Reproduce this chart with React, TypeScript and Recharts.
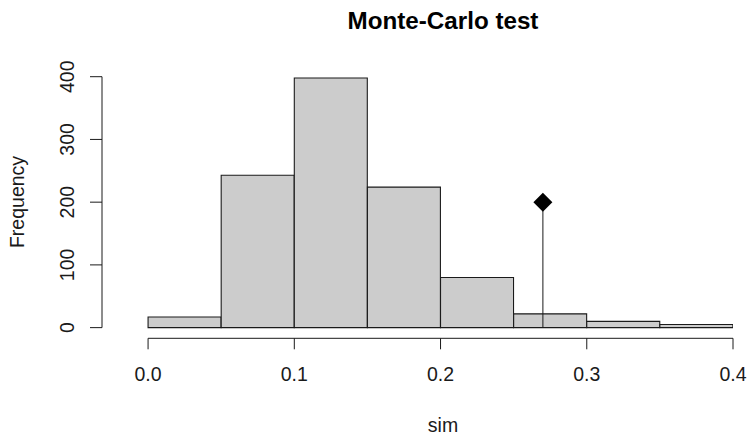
import React from 'react';
import { ComposedChart, Bar, XAxis, YAxis, ReferenceLine, ReferenceDot } from 'recharts';

// Histogram bins (centres) and counts
const binCentres = [0.025, 0.075, 0.125, 0.175, 0.225, 0.275, 0.325, 0.375];
const counts = [17, 243, 398, 224, 80, 22, 10, 5];
const xTicks = [0, 0.1, 0.2, 0.3, 0.4];
const yTicks = [0, 100, 200, 300, 400];
const observed = 0.27;
const observedHeight = 200;

// Axis extents (R-style detached axes)
const X_MIN = -0.0315;
const X_MAX = 0.4;
const Y_MIN = -17;
const Y_MAX = 400;

const data = binCentres.map((c, i) => ({ x: c, count: counts[i] }));

const FONT = '"Liberation Sans", Arial, sans-serif';
const INK = '#1a1a1a';

const YTick = (props: any) => {
  const { x, y, payload } = props;
  return (
    <text
      x={x}
      y={y}
      transform={`rotate(-90, ${x}, ${y})`}
      textAnchor="middle"
      fontFamily={FONT}
      fontSize={19.5}
      fill={INK}
    >
      {payload.value}
    </text>
  );
};

const Diamond = (props: any) => {
  const { cx, cy } = props;
  const r = 9.5;
  return (
    <polygon
      points={`${cx},${cy - r} ${cx + r},${cy} ${cx},${cy + r} ${cx - r},${cy}`}
      fill="#000"
      stroke="none"
    />
  );
};

export default function App() {
  return (
    <div style={{ position: 'absolute', left: 0, top: 0, width: 750, height: 441, background: '#fff' }}>
      <ComposedChart
        width={750}
        height={441}
        data={data}
        margin={{ top: 76.7, right: 17, bottom: 42.7, left: 0 }}
        barCategoryGap={0}
        barGap={0}
      >
        <XAxis
          dataKey="x"
          type="number"
          domain={[X_MIN, X_MAX]}
          allowDataOverflow
          ticks={xTicks}
          tickFormatter={(v: number) => v.toFixed(1)}
          axisLine={false}
          tickSize={11}
          tickMargin={18}
          height={60}
          tick={{ fontFamily: FONT, fontSize: 19.5, fill: INK }}
          tickLine={{ stroke: INK, strokeWidth: 1 }}
          interval={0}
        />
        <YAxis
          type="number"
          domain={[Y_MIN, Y_MAX]}
          allowDataOverflow
          ticks={yTicks}
          axisLine={false}
          width={102}
          tickSize={12}
          tickMargin={16}
          tick={<YTick />}
          tickLine={{ stroke: INK, strokeWidth: 1 }}
          interval={0}
        />
        <Bar
          dataKey="count"
          fill="#cccccc"
          stroke={INK}
          strokeWidth={1.1}
          isAnimationActive={false}
        />
        <ReferenceLine
          segment={[{ x: xTicks[0], y: Y_MIN }, { x: xTicks[xTicks.length - 1], y: Y_MIN }]}
          stroke={INK}
          strokeWidth={1}
          ifOverflow="visible"
        />
        <ReferenceLine
          segment={[{ x: X_MIN, y: yTicks[0] }, { x: X_MIN, y: yTicks[yTicks.length - 1] }]}
          stroke={INK}
          strokeWidth={1}
          ifOverflow="visible"
        />
        <ReferenceLine
          segment={[{ x: observed, y: 0 }, { x: observed, y: observedHeight }]}
          stroke={INK}
          strokeWidth={1}
          ifOverflow="visible"
        />
        <ReferenceDot x={observed} y={observedHeight} r={9} shape={<Diamond />} ifOverflow="visible" />
        <text x={443} y={28.5} textAnchor="middle" fontFamily={FONT} fontSize={24.2} fontWeight="bold" fill="#000">
          Monte-Carlo test
        </text>
        <text x={443} y={431.5} textAnchor="middle" fontFamily={FONT} fontSize={19.5} fill={INK}>
          sim
        </text>
        <text
          x={24}
          y={202}
          transform="rotate(-90, 24, 202)"
          textAnchor="middle"
          fontFamily={FONT}
          fontSize={19.5}
          fill={INK}
        >
          Frequency
        </text>
      </ComposedChart>
    </div>
  );
}
